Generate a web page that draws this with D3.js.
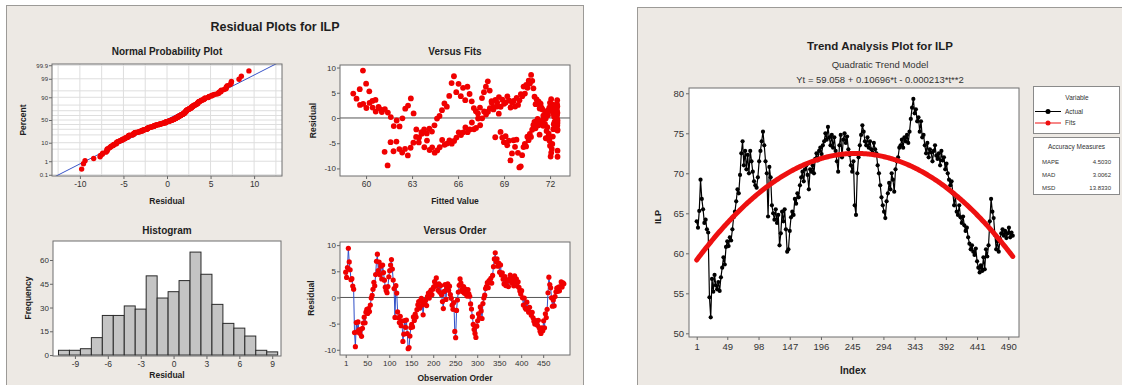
<!DOCTYPE html>
<html><head><meta charset="utf-8">
<script src="https://cdn.jsdelivr.net/npm/d3@7"></script>
<style>
body{margin:0;background:#fff;}
svg text{font-family:"Liberation Sans",Arial,sans-serif;}
</style></head><body>
<svg id="c" width="1122" height="385"></svg>
<script>
// ---------------- DATA ----------------
// ILP actual values, read at every 2nd index (1,3,5,...,497)
const ilpActual = [
 64.0,63.2,65.3,69.2,66.8,65.5,63.8,64.2,63.0,62.6,
 54.5,52.0,56.8,55.2,57.3,56.0,55.5,56.4,55.3,57.0,
 58.2,59.5,58.6,60.8,61.5,60.9,62.0,61.6,63.0,64.5,
 65.2,66.5,68.0,67.5,69.8,72.5,74.0,71.0,72.8,70.5,
 72.3,70.0,72.8,71.5,70.2,69.0,68.5,68.2,69.5,71.5,
 72.8,74.0,75.2,73.5,71.5,70.0,64.6,70.8,69.5,66.0,
 65.0,64.2,65.5,63.8,64.8,61.0,62.5,65.2,64.0,65.5,
 63.0,60.2,60.5,62.8,64.5,65.2,64.8,66.8,66.2,67.5,
 67.0,68.5,69.5,70.2,69.0,70.5,71.0,69.8,68.0,70.5,
 70.2,71.0,70.0,71.8,72.5,71.6,72.8,73.2,72.4,73.5,
 74.0,75.0,74.2,75.8,74.5,73.5,74.8,73.2,74.5,72.8,
 71.5,70.2,73.5,74.8,72.0,74.2,75.0,73.8,74.6,73.0,
 72.3,71.0,70.2,71.5,66.0,64.8,70.0,72.0,73.5,74.8,
 76.0,75.2,74.0,73.5,74.5,73.2,74.0,73.0,72.6,73.8,
 73.0,72.5,71.0,70.0,68.5,67.0,66.0,65.2,64.4,66.5,
 67.5,68.8,68.0,70.0,69.2,67.7,70.5,71.5,72.0,73.2,
 73.5,74.2,73.2,74.5,74.0,74.8,73.8,75.2,76.8,78.2,
 79.3,77.5,78.0,76.5,77.0,75.2,76.5,74.5,74.8,73.5,
 72.5,73.8,72.0,73.0,72.6,71.5,72.8,73.5,72.2,71.8,
 72.5,71.0,72.8,71.6,72.0,70.5,71.2,70.0,69.2,68.5,
 69.0,67.5,66.0,67.2,65.2,64.8,66.0,64.5,63.8,64.6,
 63.5,62.8,63.2,62.0,61.2,60.5,61.0,60.2,59.8,60.6,
 59.0,58.2,57.6,58.5,57.8,59.5,58.0,60.5,59.6,61.0,
 64.0,66.8,65.2,64.4,62.3,60.5,61.5,60.2,61.8,62.5,
 63.0,62.2,62.8,61.9,62.5,63.2,62.0,62.6,62.2
];
const indexStep = 2;
// Quadratic trend model coefficients (from the chart's equation)
const trendCoef = [59.058, 0.10696, -0.000213];
// Histogram of residuals (bin centres and frequencies)
const histCenters = [-10,-9,-8,-7,-6,-5,-4,-3,-2,-1,0,1,2,3,4,5,6,7,8,9];
const histCounts  = [3,3,4,11,25,25,31,29,50,36,40,47,65,51,32,20,17,12,3,2];
// Tick labels
const nppXTicks = [-10,-5,0,5,10];
const nppPctTicks = [0.1,1,10,50,90,99,99.9];
const nppPctGrid = [0.1,1,5,10,20,30,40,50,60,70,80,90,95,99,99.9];
const fitsXTicks = [60,63,66,69,72];
const residTicks = [-10,-5,0,5,10];
const histXTicks = [-9,-6,-3,0,3,6,9];
const histYTicks = [0,15,30,45,60];
const orderXTicks = [1,50,100,150,200,250,300,350,400,450];
const trendXTicks = [1,49,98,147,196,245,294,343,392,441,490];
const trendYTicks = [50,55,60,65,70,75,80];
const legendSeries = ["Actual","Fits"];
const accuracyNames = ["MAPE","MAD","MSD"];
const accuracyValues = ["4.5030","3.0062","13.8330"];

// ---------------- DERIVED ----------------
const idx = ilpActual.map((v,k)=>1+k*indexStep);
const fitAt = t => trendCoef[0]+trendCoef[1]*t+trendCoef[2]*t*t;
const fits = idx.map(fitAt);
const resid = ilpActual.map((v,k)=>v-fits[k]);

function invNorm(p){
 const a=[-3.969683028665376e+01,2.209460984245205e+02,-2.759285104469687e+02,1.383577518672690e+02,-3.066479806614716e+01,2.506628277459239e+00];
 const b=[-5.447609879822406e+01,1.615858368580409e+02,-1.556989798598866e+02,6.680131188771972e+01,-1.328068155288572e+01];
 const c=[-7.784894002430293e-03,-3.223964580411365e-01,-2.400758277161838e+00,-2.549671492106403e+00,4.374664141464968e+00,2.938163982698783e+00];
 const d=[7.784695709041462e-03,3.224671290700398e-01,2.445134137142996e+00,3.754408661907416e+00];
 const pl=0.02425, ph=1-pl; let q,r;
 if(p<pl){q=Math.sqrt(-2*Math.log(p));return (((((c[0]*q+c[1])*q+c[2])*q+c[3])*q+c[4])*q+c[5])/((((d[0]*q+d[1])*q+d[2])*q+d[3])*q+1);}
 if(p<=ph){q=p-0.5;r=q*q;return (((((a[0]*r+a[1])*r+a[2])*r+a[3])*r+a[4])*r+a[5])*q/(((((b[0]*r+b[1])*r+b[2])*r+b[3])*r+b[4])*r+1);}
 q=Math.sqrt(-2*Math.log(1-p));return -(((((c[0]*q+c[1])*q+c[2])*q+c[3])*q+c[4])*q+c[5])/((((d[0]*q+d[1])*q+d[2])*q+d[3])*q+1);
}

// ---------------- DRAW ----------------
const FONT='"Liberation Sans", Arial, sans-serif';
const svg=d3.select("#c");
const defs=svg.append("defs");
let clipN=0;
function txt(x,y,s,size,o={}){
  const t=svg.append("text").attr("x",x).attr("y",y).text(s)
   .attr("font-size",size).attr("font-weight",o.bold?"bold":"normal")
   .attr("text-anchor",o.anchor||"middle").attr("fill",o.fill||"#1e1e1e");
  if(o.rot) t.attr("transform",`rotate(-90,${x},${y})`);
  return t;
}
function panel(box,xDom,yDom,xTicks,yTicks,o={}){
  const [x0,y0,x1,y1]=box;
  const x=d3.scaleLinear().domain(xDom).range([x0,x1]);
  const y=d3.scaleLinear().domain(yDom).range([y1,y0]);
  svg.append("rect").attr("x",x0).attr("y",y0).attr("width",x1-x0).attr("height",y1-y0).attr("fill","#fff");
  const id="clip"+(clipN++);
  defs.append("clipPath").attr("id",id).append("rect").attr("x",x0).attr("y",y0).attr("width",x1-x0).attr("height",y1-y0);
  const grid=svg.append("g").attr("clip-path",`url(#${id})`);
  const plot=svg.append("g").attr("clip-path",`url(#${id})`);
  const xa=svg.append("g").attr("transform",`translate(0,${y1})`)
    .call(d3.axisBottom(x).tickValues(xTicks).tickSize(3).tickSizeOuter(0).tickPadding(o.xpad||2).tickFormat(o.xFmt||(d=>d)));
  const ya=svg.append("g").attr("transform",`translate(${x0},0)`)
    .call(d3.axisLeft(y).tickValues(yTicks).tickSize(3).tickSizeOuter(0).tickPadding(o.ypad||1).tickFormat(o.yFmt||(d=>d)));
  xa.selectAll("text").attr("font-size",o.xtf||8);
  ya.selectAll("text").attr("font-size",o.ytf||8);
  [xa,ya].forEach(a=>{a.select(".domain").remove();a.attr("font-family",FONT);
    a.selectAll("line").attr("stroke","#666");a.selectAll("text").attr("fill","#333");});
  return {x,y,plot,grid,finish(){
    svg.append("rect").attr("x",x0).attr("y",y0).attr("width",x1-x0).attr("height",y1-y0)
      .attr("fill","none").attr("stroke","#6f6f6f").attr("stroke-width",1);
  }};
}

// panel backgrounds
svg.append("rect").attr("x",6.5).attr("y",5.5).attr("width",577).attr("height",385).attr("fill","#ede9e4").attr("stroke","#9c9a97");
svg.append("rect").attr("x",637.5).attr("y",7.5).attr("width",490).attr("height",385).attr("fill","#ede9e4").attr("stroke","#9c9a97");

txt(275,31,"Residual Plots for ILP",12.5,{bold:true});

// ---- Normal probability plot ----
{
  const p=panel([52,64,282,176],[-13.2,13.2],[-3.16,3.16],nppXTicks,nppPctTicks.map(v=>invNorm(v/100)),
    {yFmt:(d,i)=>nppPctTicks[i],ytf:6,xtf:8.5});
  p.grid.selectAll("line.h").data(nppPctGrid).join("line")
    .attr("x1",p.x.range()[0]).attr("x2",p.x.range()[1])
    .attr("y1",d=>p.y(invNorm(d/100))).attr("y2",d=>p.y(invNorm(d/100)))
    .attr("stroke","#dedede");
  p.grid.selectAll("line.v").data(d3.range(-12.5,12.6,2.5)).join("line")
    .attr("y1",64).attr("y2",176).attr("x1",d=>p.x(d)).attr("x2",d=>p.x(d)).attr("stroke","#dedede");
  const sorted=resid.slice().sort(d3.ascending), n=sorted.length;
  const pts=sorted.map((r,i)=>[r,invNorm((i+1-0.3)/(n+0.4))]);
  const m=d3.mean(resid), s=d3.deviation(resid);
  p.plot.append("line").attr("x1",p.x(m+s*-3.3)).attr("y1",p.y(-3.3)).attr("x2",p.x(m+s*3.3)).attr("y2",p.y(3.3))
    .attr("stroke","#3a55c8").attr("stroke-width",1);
  p.plot.selectAll("circle").data(pts).join("circle").attr("cx",d=>p.x(d[0])).attr("cy",d=>p.y(d[1]))
    .attr("r",2.7).attr("fill","#f00000");
  p.finish();
  txt(167,55,"Normal Probability Plot",10,{bold:true});
  txt(167,204,"Residual",8.5,{bold:true});
  txt(26,120,"Percent",8.5,{bold:true,rot:true});
}

// ---- Versus fits ----
{
  const p=panel([340,65,570,176],[58.3,73.3],[-11.5,10.5],fitsXTicks,residTicks,{xtf:8.5,ytf:8});
  p.plot.append("line").attr("x1",340).attr("x2",570).attr("y1",p.y(0)).attr("y2",p.y(0)).attr("stroke","#555");
  p.plot.selectAll("circle").data(resid).join("circle").attr("cx",(d,i)=>p.x(fits[i])).attr("cy",d=>p.y(d))
    .attr("r",2.9).attr("fill","#f00000");
  p.finish();
  txt(455,55,"Versus Fits",10,{bold:true});
  txt(455,204,"Fitted Value",8.5,{bold:true});
  txt(316,120.5,"Residual",8.5,{bold:true,rot:true});
}

// ---- Histogram ----
{
  const p=panel([53,241,281,356],[-11,9.8],[-0.6,72],histXTicks,histYTicks,{xtf:8.5,ytf:8});
  p.plot.selectAll("rect").data(histCounts).join("rect")
    .attr("x",(d,i)=>p.x(histCenters[i]-0.5)).attr("width",(d,i)=>p.x(histCenters[i]+0.5)-p.x(histCenters[i]-0.5))
    .attr("y",d=>p.y(d)).attr("height",d=>p.y(0)-p.y(d))
    .attr("fill","#c4c4c4").attr("stroke","#2a2a2a").attr("stroke-width",1);
  p.finish();
  txt(167,234,"Histogram",10,{bold:true});
  txt(167,378,"Residual",8.5,{bold:true});
  txt(31,298,"Frequency",8.5,{bold:true,rot:true});
}

// ---- Versus order ----
{
  const p=panel([340,242,570,355],[-12,511],[-11,10.6],orderXTicks,residTicks,{xtf:8,ytf:8});
  p.plot.append("line").attr("x1",340).attr("x2",570).attr("y1",p.y(0)).attr("y2",p.y(0)).attr("stroke","#555");
  p.plot.append("path").datum(resid).attr("d",d3.line().x((d,i)=>p.x(idx[i])).y(d=>p.y(d)))
    .attr("fill","none").attr("stroke","#2f4fc8").attr("stroke-width",1);
  p.plot.selectAll("circle").data(resid).join("circle").attr("cx",(d,i)=>p.x(idx[i])).attr("cy",d=>p.y(d))
    .attr("r",2.6).attr("fill","#f00000");
  p.finish();
  txt(455,234,"Versus Order",10,{bold:true});
  txt(455,381,"Observation Order",8.5,{bold:true});
  txt(314,298,"Residual",8.5,{bold:true,rot:true});
}

// ---- Trend analysis ----
{
  txt(880,50,"Trend Analysis Plot for ILP",11.5,{bold:true});
  txt(880,67.5,"Quadratic Trend Model",9.5,{fill:"#333"});
  txt(880,83,"Yt = 59.058 + 0.10696*t - 0.000213*t**2",9.5,{fill:"#333"});
  const p=panel([689,88,1019,337],[-11.1,506.8],[49.54,80.66],trendXTicks,trendYTicks,{xtf:9.5,ytf:9.5,xpad:3,ypad:2});
  p.plot.append("path").datum(ilpActual).attr("d",d3.line().x((d,i)=>p.x(idx[i])).y(d=>p.y(d)))
    .attr("fill","none").attr("stroke","#000").attr("stroke-width",1.2);
  p.plot.selectAll("circle").data(ilpActual).join("circle").attr("cx",(d,i)=>p.x(idx[i])).attr("cy",d=>p.y(d))
    .attr("r",2.1).attr("fill","#000");
  p.plot.append("path").datum(fits).attr("d",d3.line().x((d,i)=>p.x(idx[i])).y(d=>p.y(d)))
    .attr("fill","none").attr("stroke","#ee1010").attr("stroke-width",5).attr("stroke-linecap","round");
  p.finish();
  txt(853,374,"Index",10,{bold:true});
  txt(661,217,"ILP",9,{bold:true,rot:true});

  // legend
  svg.append("rect").attr("x",1033.5).attr("y",86.5).attr("width",86).attr("height",47).attr("fill","#fff").attr("stroke","#8a8a8a");
  svg.append("rect").attr("x",1033.5).attr("y",137.5).attr("width",86).attr("height",57).attr("fill","#fff").attr("stroke","#8a8a8a");
  txt(1077,100,"Variable",6.5,{fill:"#333"});
  const lc=["#000","#ee1010"];
  legendSeries.forEach((s,i)=>{
    const yy=111.5+i*11.5;
    svg.append("line").attr("x1",1035).attr("x2",1061).attr("y1",yy).attr("y2",yy).attr("stroke",lc[i]).attr("stroke-width",1);
    svg.append("circle").attr("cx",1048).attr("cy",yy).attr("r",2.5).attr("fill",lc[i]);
    txt(1065,yy+2.3,s,6.5,{anchor:"start",fill:"#333"});
  });
  txt(1076.5,149,"Accuracy Measures",6.5,{fill:"#333"});
  accuracyNames.forEach((s,i)=>{
    const yy=163.5+i*13.3;
    txt(1042,yy,s,6,{anchor:"start",fill:"#333"});
    txt(1111,yy,accuracyValues[i],6,{anchor:"end",fill:"#333"});
  });
}
</script>
</body></html>
